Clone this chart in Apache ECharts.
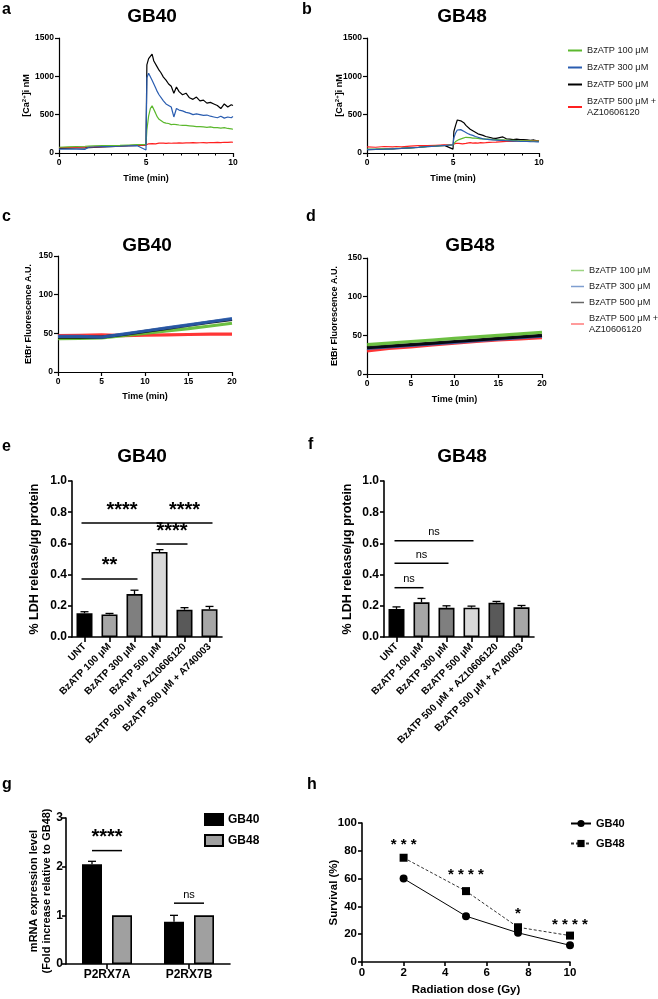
<!DOCTYPE html>
<html>
<head>
<meta charset="utf-8">
<script src="https://cdn.jsdelivr.net/npm/echarts@6/dist/echarts.min.js"></script>
<style>
  html, body { margin: 0; padding: 0; background: #fff; }
  #chart { width: 658px; height: 999px; }
</style>
</head>
<body>
<div id="chart"></div>
<script>
// ---- data ----
const concNames = ['BzATP 100 μM', 'BzATP 300 μM', 'BzATP 500 μM', 'BzATP 500 μM + AZ10606120']
const concColors = ['#5cb82e', '#2a5db0', '#000000', '#ff2020']

// [Ca2+]i traces (panel a/b), time in min
const tCa = [0, 0.5, 1, 1.5, 1.7, 2, 2.5, 3, 3.5, 4, 4.5, 5, 5.05, 5.15, 5.25, 5.35, 5.45, 5.55, 5.65, 5.75,
  5.85, 6, 6.15, 6.3, 6.45, 6.6, 6.75, 6.9, 7.1, 7.3, 7.5, 7.7, 7.9, 8.1, 8.3, 8.5, 8.7, 8.9, 9.1, 9.3, 9.5, 9.7, 9.9, 10]
const caGB40 = {
  'BzATP 100 μM': [75, 80, 85, 88, 90, 92, 95, 98, 100, 104, 108, 112, 300, 480, 580, 615, 590, 520, 470, 440,
    420, 400, 390, 385, 370, 375, 370, 365, 360, 360, 355, 350, 345, 345, 340, 335, 340, 330, 330, 325, 330, 320, 315, 310],
  'BzATP 300 μM': [50, 52, 50, 48, 75, 78, 82, 85, 88, 92, 95, 40, 980, 1040, 1050, 950, 900, 850, 800, 760,
    740, 680, 640, 620, 600, 470, 580, 560, 550, 530, 520, 500, 510, 500, 490, 495, 480, 470, 460, 480, 455, 470, 460, 475],
  'BzATP 500 μM': [60, 62, 65, 68, 70, 72, 78, 82, 88, 95, 100, 105, 1150, 1230, 1260, 1290, 1200, 1180, 1120, 1080,
    1050, 990, 950, 900, 870, 780, 860, 800, 760, 780, 720, 700, 730, 680, 690, 650, 660, 640, 620, 580, 640, 600, 630, 620],
  'BzATP 500 μM + AZ10606120': [70, 72, 75, 78, 78, 80, 84, 88, 92, 95, 100, 105, 115, 120, 118, 122, 125, 120, 124, 128,
    125, 128, 126, 130, 127, 130, 128, 132, 130, 133, 131, 135, 132, 134, 136, 133, 137, 135, 138, 136, 140, 138, 142, 140]
}
const caGB48 = {
  'BzATP 100 μM': [50, 50, 55, 58, 60, 62, 68, 74, 82, 90, 98, 105, 130, 150, 165, 175, 185, 190, 200, 205,
    205, 200, 195, 195, 190, 185, 185, 180, 180, 175, 175, 170, 170, 168, 165, 165, 162, 160, 160, 158, 157, 156, 155, 155],
  'BzATP 300 μM': [45, 48, 50, 55, 57, 60, 67, 74, 83, 90, 98, 105, 200, 260, 300, 310, 305, 290, 280, 270,
    255, 240, 230, 215, 205, 195, 185, 180, 175, 170, 168, 165, 165, 160, 158, 155, 155, 152, 150, 150, 148, 147, 146, 145],
  'BzATP 500 μM': [45, 48, 52, 55, 58, 60, 68, 75, 85, 92, 100, 50, 280, 360, 430, 445, 420, 410, 390, 360,
    340, 310, 290, 270, 250, 240, 230, 215, 205, 195, 190, 200, 210, 185, 180, 175, 180, 175, 175, 170, 165, 170, 160, 155],
  'BzATP 500 μM + AZ10606120': [80, 75, 85, 80, 85, 80, 90, 95, 95, 100, 105, 110, 120, 125, 130, 125, 130, 120, 130, 125,
    130, 135, 130, 132, 130, 135, 133, 135, 138, 140, 142, 145, 148, 150, 150, 152, 155, 153, 155, 157, 158, 160, 158, 160]
}

// EtBr uptake (panel c/d)
const tEt = [0, 2.5, 5, 7.5, 10, 12.5, 15, 17.5, 20]
const etGB40 = {
  'BzATP 100 μM': [43, 43.5, 44, 47, 50, 53, 56, 59.5, 63],
  'BzATP 300 μM': [46, 46, 45, 49, 53, 57, 61, 65, 69],
  'BzATP 500 μM': [45, 45.5, 45, 48.5, 52.5, 56.5, 60.5, 64.5, 68],
  'BzATP 500 μM + AZ10606120': [47, 47.5, 48, 47, 47.5, 48, 48.5, 49, 49]
}
const etGB48 = {
  'BzATP 100 μM': [38, 40, 42, 44, 46, 48, 50, 52, 54],
  'BzATP 300 μM': [33, 35, 37, 39, 41, 43, 45, 47, 49],
  'BzATP 500 μM': [34, 36, 38, 40, 42, 44, 46, 48, 50],
  'BzATP 500 μM + AZ10606120': [30, 33, 35, 37.5, 40, 42, 44, 45.5, 47]
}

// LDH release (panel e/f)
const ldhCats = ['UNT', 'BzATP 100 μM', 'BzATP 300 μM', 'BzATP 500 μM', 'BzATP 500 μM + AZ10606120', 'BzATP 500 μM + A740003']
const ldhColors = ['#000000', '#a6a6a6', '#7f7f7f', '#d9d9d9', '#595959', '#a6a6a6']
const ldhGB40 = [0.152, 0.145, 0.275, 0.545, 0.175, 0.178]
const ldhGB40Err = [0.01, 0.006, 0.025, 0.015, 0.013, 0.018]
const ldhGB48 = [0.18, 0.222, 0.187, 0.188, 0.22, 0.19]
const ldhGB48Err = [0.013, 0.025, 0.013, 0.01, 0.008, 0.012]
const sigE = [
  { from: 0, to: 3, y: 0.73, text: '****' },
  { from: 3, to: 5, y: 0.73, text: '****' },
  { from: 3, to: 4, y: 0.596, text: '****' },
  { from: 0, to: 2, y: 0.372, text: '**' }
]
const sigF = [
  { from: 0, to: 3, y: 0.617, text: 'ns' },
  { from: 0, to: 2, y: 0.472, text: 'ns' },
  { from: 0, to: 1, y: 0.316, text: 'ns' }
]

// mRNA (panel g)
const geneCats = ['P2RX7A', 'P2RX7B']
const mrnaGB40 = [2.05, 0.87]
const mrnaGB40Err = [0.06, 0.13]
const mrnaGB48 = [1.0, 1.0]
const sigG = [
  { gene: 0, y: 2.33, text: '****' },
  { gene: 1, y: 1.25, text: 'ns' }
]

// survival (panel h)
const doses = [2, 5, 7.5, 10]
const survGB40 = [60, 33, 21, 12]
const survGB48 = [75, 51, 25, 19]
const sigH = [
  { x: 2, y: 84, text: '* * *' },
  { x: 5, y: 62.5, text: '* * * *' },
  { x: 7.5, y: 34.5, text: '*' },
  { x: 10, y: 26.5, text: '* * * *' }
]

// ---- helpers ----
const FONT = 'Arial, "Liberation Sans", Helvetica, sans-serif'
const BLACK = '#000'

function baseAxis(gridIndex, fontSize, lw) {
  return {
    gridIndex,
    axisLine: { show: true, onZero: false, lineStyle: { color: BLACK, width: lw } },
    axisTick: { show: true, length: 4, lineStyle: { color: BLACK, width: lw } },
    axisLabel: { color: BLACK, fontWeight: 'bold', fontSize, fontFamily: FONT, margin: 5, formatter: v => String(v) },
    splitLine: { show: false },
    nameTextStyle: { color: BLACK, fontWeight: 'bold', fontFamily: FONT },
    nameLocation: 'middle',
    nameMoveOverlap: false
  }
}

function valueAxis(gridIndex, min, max, interval, fontSize, lw, extra) {
  return Object.assign(baseAxis(gridIndex, fontSize, lw), { type: 'value', min, max, interval }, extra || {})
}

function zip(xs, ys) {
  return xs.map((x, i) => [x, ys[i]])
}

function errRender(offset) {
  return function (params, api) {
    const top = api.coord([api.value(0), api.value(1) + api.value(2)])
    const base = api.coord([api.value(0), api.value(1)])
    const x = top[0] + offset
    return {
      type: 'group',
      children: [
        { type: 'line', shape: { x1: x, y1: base[1], x2: x, y2: top[1] }, style: { stroke: BLACK, lineWidth: 1.3 } },
        { type: 'line', shape: { x1: x - 4, y1: top[1], x2: x + 4, y2: top[1] }, style: { stroke: BLACK, lineWidth: 1.3 } }
      ]
    }
  }
}

function sigRender(list, font, ext) {
  return function (params, api) {
    const s = list[params.dataIndex]
    const p1 = api.coord([s.from, s.y])
    const p2 = api.coord([s.to, s.y])
    return {
      type: 'group',
      children: [
        { type: 'line', shape: { x1: p1[0] - ext, y1: p1[1], x2: p2[0] + ext, y2: p2[1] }, style: { stroke: BLACK, lineWidth: 1.5 } },
        {
          type: 'text', x: (p1[0] + p2[0]) / 2, y: p1[1] - 3,
          style: { text: s.text, font, fill: BLACK, textAlign: 'center', textVerticalAlign: 'bottom' }
        }
      ]
    }
  }
}

// ---- grids ----
const grids = [
  { left: 59, top: 38, width: 174, height: 115 },   // a
  { left: 367, top: 38, width: 172, height: 115 },  // b
  { left: 58, top: 256, width: 174, height: 116 },  // c
  { left: 367, top: 258, width: 175, height: 116 }, // d
  { left: 72, top: 481, width: 150, height: 156 },  // e
  { left: 384, top: 481, width: 150, height: 156 }, // f
  { left: 66, top: 818, width: 164, height: 146 },  // g
  { left: 362, top: 823, width: 208, height: 139 }  // h
]

const caName = '[Ca{sup|2+}]i nM'
const caRich = { sup: { fontSize: 6, fontWeight: 'bold', fontFamily: FONT, color: BLACK, padding: [0, 0, 5, 0] } }
const timeX = (g, nameGap) => valueAxis(g, 0, 10, 5, 8.5, 1.2, {
  name: 'Time (min)', nameGap, nameTextStyle: { color: BLACK, fontWeight: 'bold', fontFamily: FONT, fontSize: 9 },
  minorTick: { show: true, splitNumber: 5, length: 2.5, lineStyle: { color: BLACK, width: 1 } }, minorSplitLine: { show: false }
})
const etX = (g, nameGap) => valueAxis(g, 0, 20, 5, 8.5, 1.2, {
  name: 'Time (min)', nameGap, nameTextStyle: { color: BLACK, fontWeight: 'bold', fontFamily: FONT, fontSize: 9 }
})
const caY = (g, nameGap) => valueAxis(g, 0, 1500, 500, 8.5, 1.2, {
  name: caName, nameGap, nameTextStyle: { color: BLACK, fontWeight: 'bold', fontFamily: FONT, fontSize: 9, rich: caRich }
})
const etY = (g, nameGap) => valueAxis(g, 0, 150, 50, 8.5, 1.2, {
  name: 'EtBr Fluorescence A.U.', nameGap, nameTextStyle: { color: BLACK, fontWeight: 'bold', fontFamily: FONT, fontSize: 9 }
})
const ldhX = g => Object.assign(baseAxis(g, 10, 1.6), {
  type: 'category', data: ldhCats,
  axisTick: { show: true, alignWithLabel: true, length: 5, lineStyle: { color: BLACK, width: 1.6 } },
  axisLabel: { color: BLACK, fontWeight: 'bold', fontSize: 10, fontFamily: FONT, rotate: 45, interval: 0, margin: 8 }
})
const ldhY = (g, nameGap) => valueAxis(g, 0, 1, 0.2, 12, 1.6, {
  name: '% LDH release/µg protein', nameGap,
  nameTextStyle: { color: BLACK, fontWeight: 'bold', fontFamily: FONT, fontSize: 12.5 },
  axisLabel: { color: BLACK, fontWeight: 'bold', fontSize: 12, fontFamily: FONT, margin: 5, formatter: v => v.toFixed(1) }
})

const xAxes = [
  timeX(0, 21), timeX(1, 21), etX(2, 20), etX(3, 21),
  ldhX(4), ldhX(5),
  Object.assign(baseAxis(6, 12, 1.6), {
    type: 'category', data: geneCats,
    axisTick: { show: true, alignWithLabel: true, length: 5, lineStyle: { color: BLACK, width: 1.6 } }
  }),
  valueAxis(7, 0, 10, 2, 11.5, 1.6, {
    name: 'Radiation dose (Gy)', nameGap: 22,
    nameTextStyle: { color: BLACK, fontWeight: 'bold', fontFamily: FONT, fontSize: 11.5 }
  })
]
const yAxes = [
  caY(0, 27), caY(1, 22), etY(2, 25), etY(3, 28),
  ldhY(4, 31), ldhY(5, 30),
  valueAxis(6, 0, 3, 1, 12, 1.6, {
    name: 'mRNA expression level\n(Fold increase relative to GB48)', nameGap: 13,
    nameTextStyle: { color: BLACK, fontWeight: 'bold', fontFamily: FONT, fontSize: 11, lineHeight: 12.5 },
    axisLabel: { color: BLACK, fontWeight: 'bold', fontSize: 12, fontFamily: FONT, margin: 3 }
  }),
  valueAxis(7, 0, 100, 20, 11.5, 1.6, {
    name: 'Survival (%)', nameGap: 22,
    nameTextStyle: { color: BLACK, fontWeight: 'bold', fontFamily: FONT, fontSize: 11.5 }
  })
]

// ---- series ----
const series = []
const caDrawOrder = [2, 3, 0, 1]
caDrawOrder.forEach(k => {
  const name = concNames[k]
  series.push({
    type: 'line', name, xAxisIndex: 0, yAxisIndex: 0, symbol: 'none', color: concColors[k],
    lineStyle: { width: 1.2 }, data: zip(tCa, caGB40[name])
  })
  series.push({
    type: 'line', name, xAxisIndex: 1, yAxisIndex: 1, symbol: 'none', color: concColors[k],
    lineStyle: { width: 1.2 }, data: zip(tCa, caGB48[name])
  })
})
const etDrawOrder = [3, 0, 2, 1]
etDrawOrder.forEach(k => {
  const name = concNames[k]
  series.push({
    type: 'line', name: 'E:' + name, xAxisIndex: 2, yAxisIndex: 2, symbol: 'none', color: concColors[k],
    lineStyle: { width: 3.2, opacity: 0.9 }, data: zip(tEt, etGB40[name])
  })
})
;[3, 1, 2, 0].forEach(k => {
  const name = concNames[k]
  series.push({
    type: 'line', name: 'E:' + name, xAxisIndex: 3, yAxisIndex: 3, symbol: 'none', color: concColors[k],
    lineStyle: { width: 3.2, opacity: 0.9 }, data: zip(tEt, etGB48[name])
  })
})

function ldhSeries(g, vals, errs, sig) {
  series.push({
    type: 'bar', xAxisIndex: g, yAxisIndex: g, barWidth: 16,
    data: vals.map((v, i) => ({ value: v, itemStyle: { color: ldhColors[i], borderColor: BLACK, borderWidth: 1.6 } }))
  })
  series.push({
    type: 'custom', xAxisIndex: g, yAxisIndex: g, z: 3, renderItem: errRender(0),
    encode: { x: 0, y: 1 }, data: vals.map((v, i) => [i, v, errs[i]])
  })
  const isNs = sig[0].text === 'ns'
  series.push({
    type: 'custom', xAxisIndex: g, yAxisIndex: g, z: 4,
    renderItem: sigRender(sig, isNs ? '11px ' + FONT : 'bold 20px ' + FONT, isNs ? 2 : 3),
    encode: { x: [0, 2], y: 1 }, data: sig.map(s => [s.from, s.y, s.to])
  })
}
ldhSeries(4, ldhGB40, ldhGB40Err, sigE)
ldhSeries(5, ldhGB48, ldhGB48Err, sigF)

// panel g
const G_BAR = 20
const G_OFF = 15
series.push({
  type: 'bar', name: 'GB40', xAxisIndex: 6, yAxisIndex: 6, barWidth: G_BAR, barGap: '50%',
  itemStyle: { color: '#000', borderColor: BLACK, borderWidth: 1.6 }, data: mrnaGB40
})
series.push({
  type: 'bar', name: 'GB48', xAxisIndex: 6, yAxisIndex: 6, barWidth: G_BAR, barGap: '50%',
  itemStyle: { color: '#a0a0a0', borderColor: BLACK, borderWidth: 1.6 }, data: mrnaGB48
})
series.push({
  type: 'custom', xAxisIndex: 6, yAxisIndex: 6, z: 3, renderItem: errRender(-G_OFF),
  encode: { x: 0, y: 1 }, data: mrnaGB40.map((v, i) => [i, v, mrnaGB40Err[i]])
})
series.push({
  type: 'custom', xAxisIndex: 6, yAxisIndex: 6, z: 4,
  renderItem: function (params, api) {
    const s = sigG[params.dataIndex]
    const p = api.coord([s.gene, s.y])
    const ns = s.text === 'ns'
    return {
      type: 'group',
      children: [
        { type: 'line', shape: { x1: p[0] - G_OFF, y1: p[1], x2: p[0] + G_OFF, y2: p[1] }, style: { stroke: BLACK, lineWidth: 1.5 } },
        {
          type: 'text', x: p[0], y: p[1] - 3,
          style: { text: s.text, font: (ns ? '11px ' : 'bold 20px ') + FONT, fill: BLACK, textAlign: 'center', textVerticalAlign: 'bottom' }
        }
      ]
    }
  },
  encode: { x: 0, y: 1 }, data: sigG.map(s => [s.gene, s.y])
})

// panel h
series.push({
  type: 'line', name: 'h:GB40', xAxisIndex: 7, yAxisIndex: 7, color: '#000',
  symbol: 'circle', symbolSize: 8, lineStyle: { width: 1, color: '#000' }, data: zip(doses, survGB40)
})
series.push({
  type: 'line', name: 'h:GB48', xAxisIndex: 7, yAxisIndex: 7, color: '#000',
  symbol: 'rect', symbolSize: 8, lineStyle: { width: 1, color: '#333', type: [3, 2] }, data: zip(doses, survGB48)
})
series.push({
  type: 'custom', xAxisIndex: 7, yAxisIndex: 7, z: 4,
  renderItem: function (params, api) {
    const s = sigH[params.dataIndex]
    const p = api.coord([s.x, s.y])
    return {
      type: 'text', x: p[0], y: p[1],
      style: { text: s.text, font: 'bold 15px ' + FONT, fill: BLACK, textAlign: 'center', textVerticalAlign: 'middle' }
    }
  },
  encode: { x: 0, y: 1 }, data: sigH.map(s => [s.x, s.y])
})

// ---- legends ----
const legendText = { color: '#222', fontSize: 9.2, fontFamily: FONT, lineHeight: 11 }
const legends = [
  {
    orient: 'vertical', left: 563, top: 40, itemWidth: 14, itemHeight: 2, icon: 'rect', itemGap: 6,
    data: concNames, textStyle: legendText, selectedMode: false,
    formatter: n => n.replace(' + ', ' +\n')
  },
  {
    orient: 'vertical', left: 566, top: 260, itemWidth: 13, itemHeight: 1.5, icon: 'rect', itemGap: 5,
    data: concNames.map(n => ({ name: 'E:' + n, itemStyle: { opacity: 0.6 } })), textStyle: legendText, selectedMode: false,
    formatter: n => n.slice(2).replace(' + ', ' +\n')
  },
  {
    orient: 'vertical', left: 199, top: 808, itemWidth: 18, itemHeight: 11, icon: 'rect', itemGap: 8,
    data: ['GB40', 'GB48'], selectedMode: false,
    textStyle: { color: BLACK, fontSize: 12, fontWeight: 'bold', fontFamily: FONT }
  },
  {
    orient: 'vertical', left: 565, top: 813, itemWidth: 20, itemHeight: 9, itemGap: 9,
    data: ['h:GB40', 'h:GB48'], selectedMode: false, formatter: n => n.slice(2),
    textStyle: { color: BLACK, fontSize: 11, fontWeight: 'bold', fontFamily: FONT }
  }
]

// ---- panel letters and titles ----
function txt(x, y, text, size, align) {
  return {
    type: 'text', x, y,
    style: { text, font: 'bold ' + size + 'px ' + FONT, fill: BLACK, textAlign: align || 'left', textVerticalAlign: 'middle' }
  }
}
const graphics = [
  txt(2, 10, 'a', 16), txt(302, 10, 'b', 16),
  txt(2, 217, 'c', 16), txt(306, 217, 'd', 16),
  txt(2, 447, 'e', 16), txt(308, 445, 'f', 16),
  txt(2, 785, 'g', 16), txt(307, 785, 'h', 16),
  txt(152, 17, 'GB40', 19, 'center'), txt(462, 17, 'GB48', 19, 'center'),
  txt(147, 246, 'GB40', 19, 'center'), txt(470, 246, 'GB48', 19, 'center'),
  txt(142, 457, 'GB40', 19, 'center'), txt(462, 457, 'GB48', 19, 'center')
]

const chart = echarts.init(document.getElementById('chart'), null, { renderer: 'canvas' })
chart.setOption({
  animation: false,
  backgroundColor: '#fff',
  textStyle: { fontFamily: FONT },
  grid: grids,
  xAxis: xAxes,
  yAxis: yAxes,
  legend: legends,
  graphic: graphics,
  series
})
</script>
</body>
</html>
